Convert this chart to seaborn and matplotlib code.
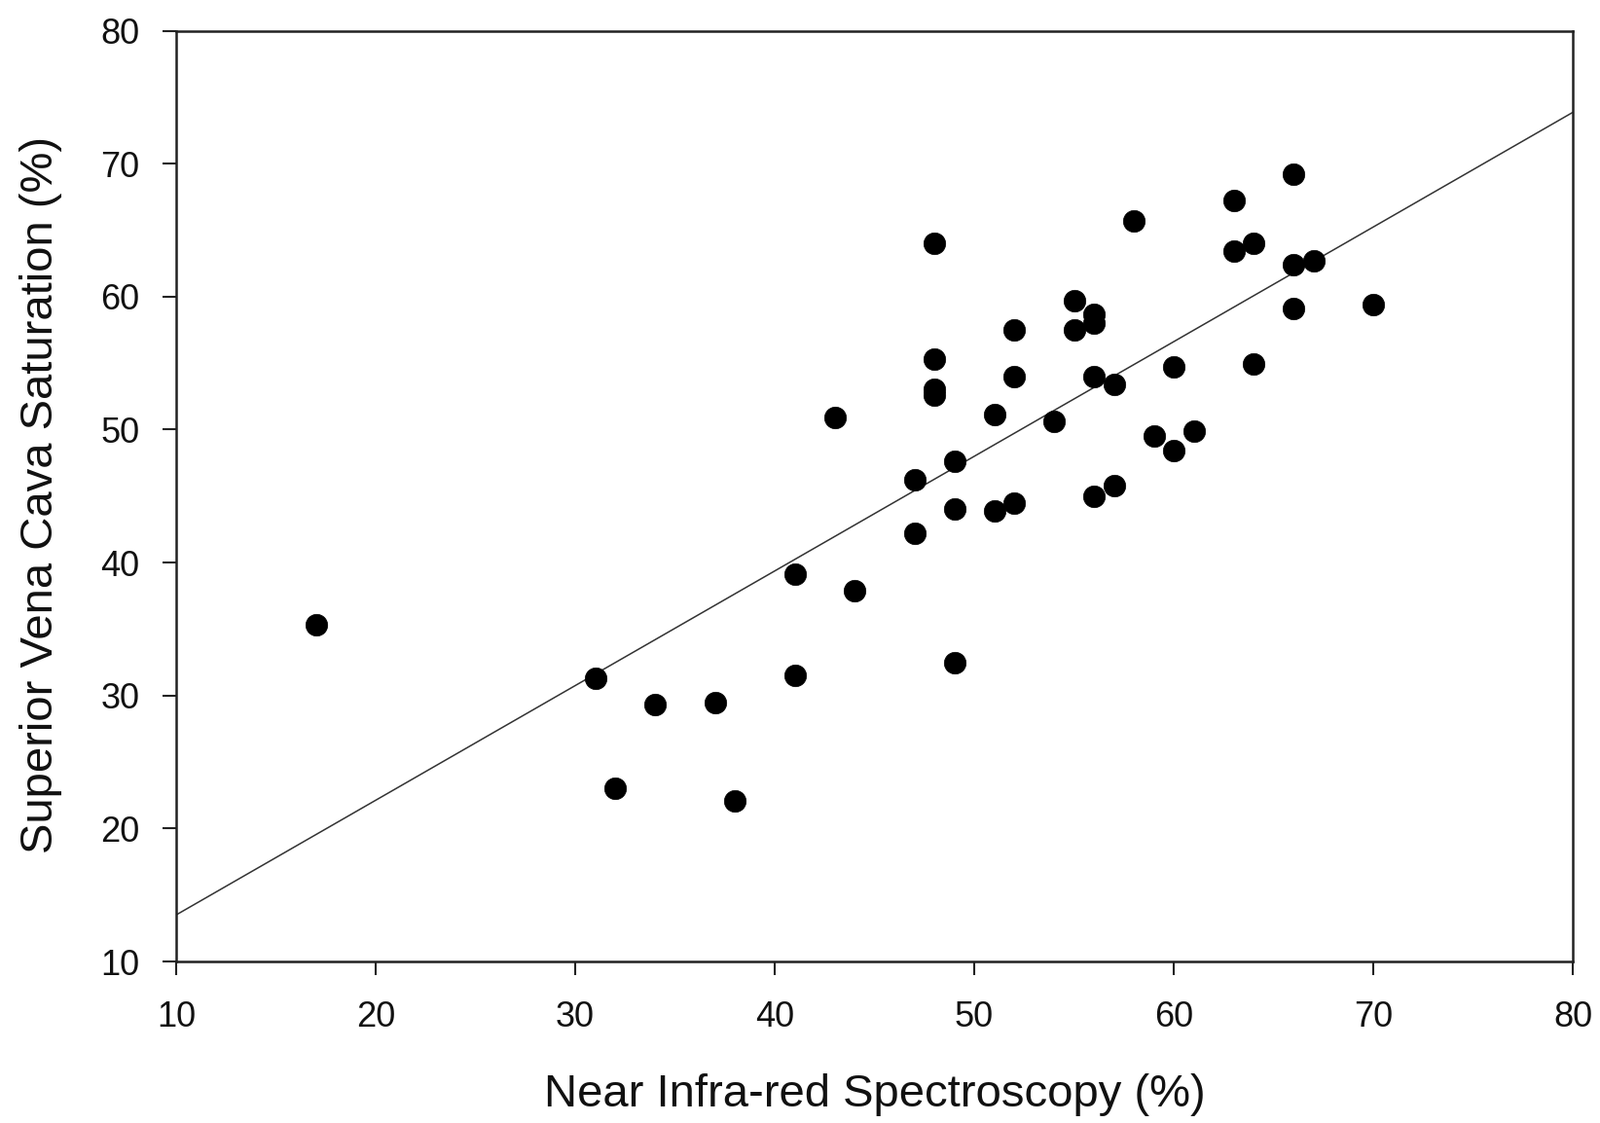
import matplotlib
matplotlib.use("Agg")
import matplotlib.pyplot as plt
import seaborn as sns
import pandas as pd

# NIRS (%) vs SVC saturation (%)
nirs = [17, 31, 32, 34, 37, 38, 41, 41, 43, 44, 47, 47, 48, 48, 48, 48, 49, 49, 49,
        51, 51, 52, 52, 52, 54, 55, 55, 56, 56, 56, 56, 57, 57, 58, 59, 60, 60, 61,
        63, 63, 64, 64, 66, 66, 66, 67, 70]
svc = [35.3, 31.3, 23.0, 29.3, 29.5, 22.1, 39.1, 31.5, 50.9, 37.9, 46.2, 42.2, 64.0, 55.3,
       53.0, 52.6, 47.6, 44.0, 32.5, 51.1, 43.9, 57.5, 54.0, 44.5, 50.6, 59.7, 57.5, 58.7,
       58.0, 54.0, 45.0, 53.4, 45.8, 65.7, 49.5, 54.7, 48.4, 49.9, 67.2, 63.4, 64.0, 54.9,
       69.2, 62.4, 59.1, 62.7, 59.4]

x_ticks = [10, 20, 30, 40, 50, 60, 70, 80]
y_ticks = [10, 20, 30, 40, 50, 60, 70, 80]
x_label = "Near Infra-red Spectroscopy (%)"
y_label = "Superior Vena Cava Saturation (%)"

df = pd.DataFrame({"nirs": nirs, "svc": svc})

sns.set_theme(style="white")
plt.rcParams["font.family"] = ["Liberation Sans", "DejaVu Sans"]

fig = plt.figure(figsize=(16.44, 11.54), dpi=100)
ax = fig.add_axes([0.1101, 0.1438, 0.983 - 0.1101, 0.9727 - 0.1438])
ax.set_xlim(10, 80)
ax.set_ylim(10, 80)

sns.regplot(data=df, x="nirs", y="svc", ax=ax, scatter=False, ci=None, truncate=False,
            line_kws=dict(color="#333333", lw=1.1))
sns.scatterplot(data=df, x="nirs", y="svc", ax=ax, s=260, color="black",
                edgecolor="black", linewidth=0.5, zorder=3)

ax.set_xlim(10, 80)
ax.set_ylim(10, 80)
ax.set_xticks(x_ticks)
ax.set_yticks(y_ticks)
ax.tick_params(axis="both", direction="out", length=10, width=1.5, color="#222222",
               labelsize=26, labelcolor="#111111")
ax.tick_params(axis="x", pad=19, bottom=True)
ax.tick_params(axis="y", pad=17, left=True)
for sp in ax.spines.values():
    sp.set_linewidth(1.8)
    sp.set_color("#222222")

ax.set_xlabel(x_label, fontsize=34, color="#111111")
ax.set_ylabel(y_label, fontsize=34, color="#111111")
ax.xaxis.set_label_coords(0.5, -0.1432)
ax.xaxis.label.set_verticalalignment("center")
ax.yaxis.set_label_coords(-0.0969, 0.501)
ax.yaxis.label.set_verticalalignment("center")

fig.savefig("out.png", dpi=100, facecolor="white")
